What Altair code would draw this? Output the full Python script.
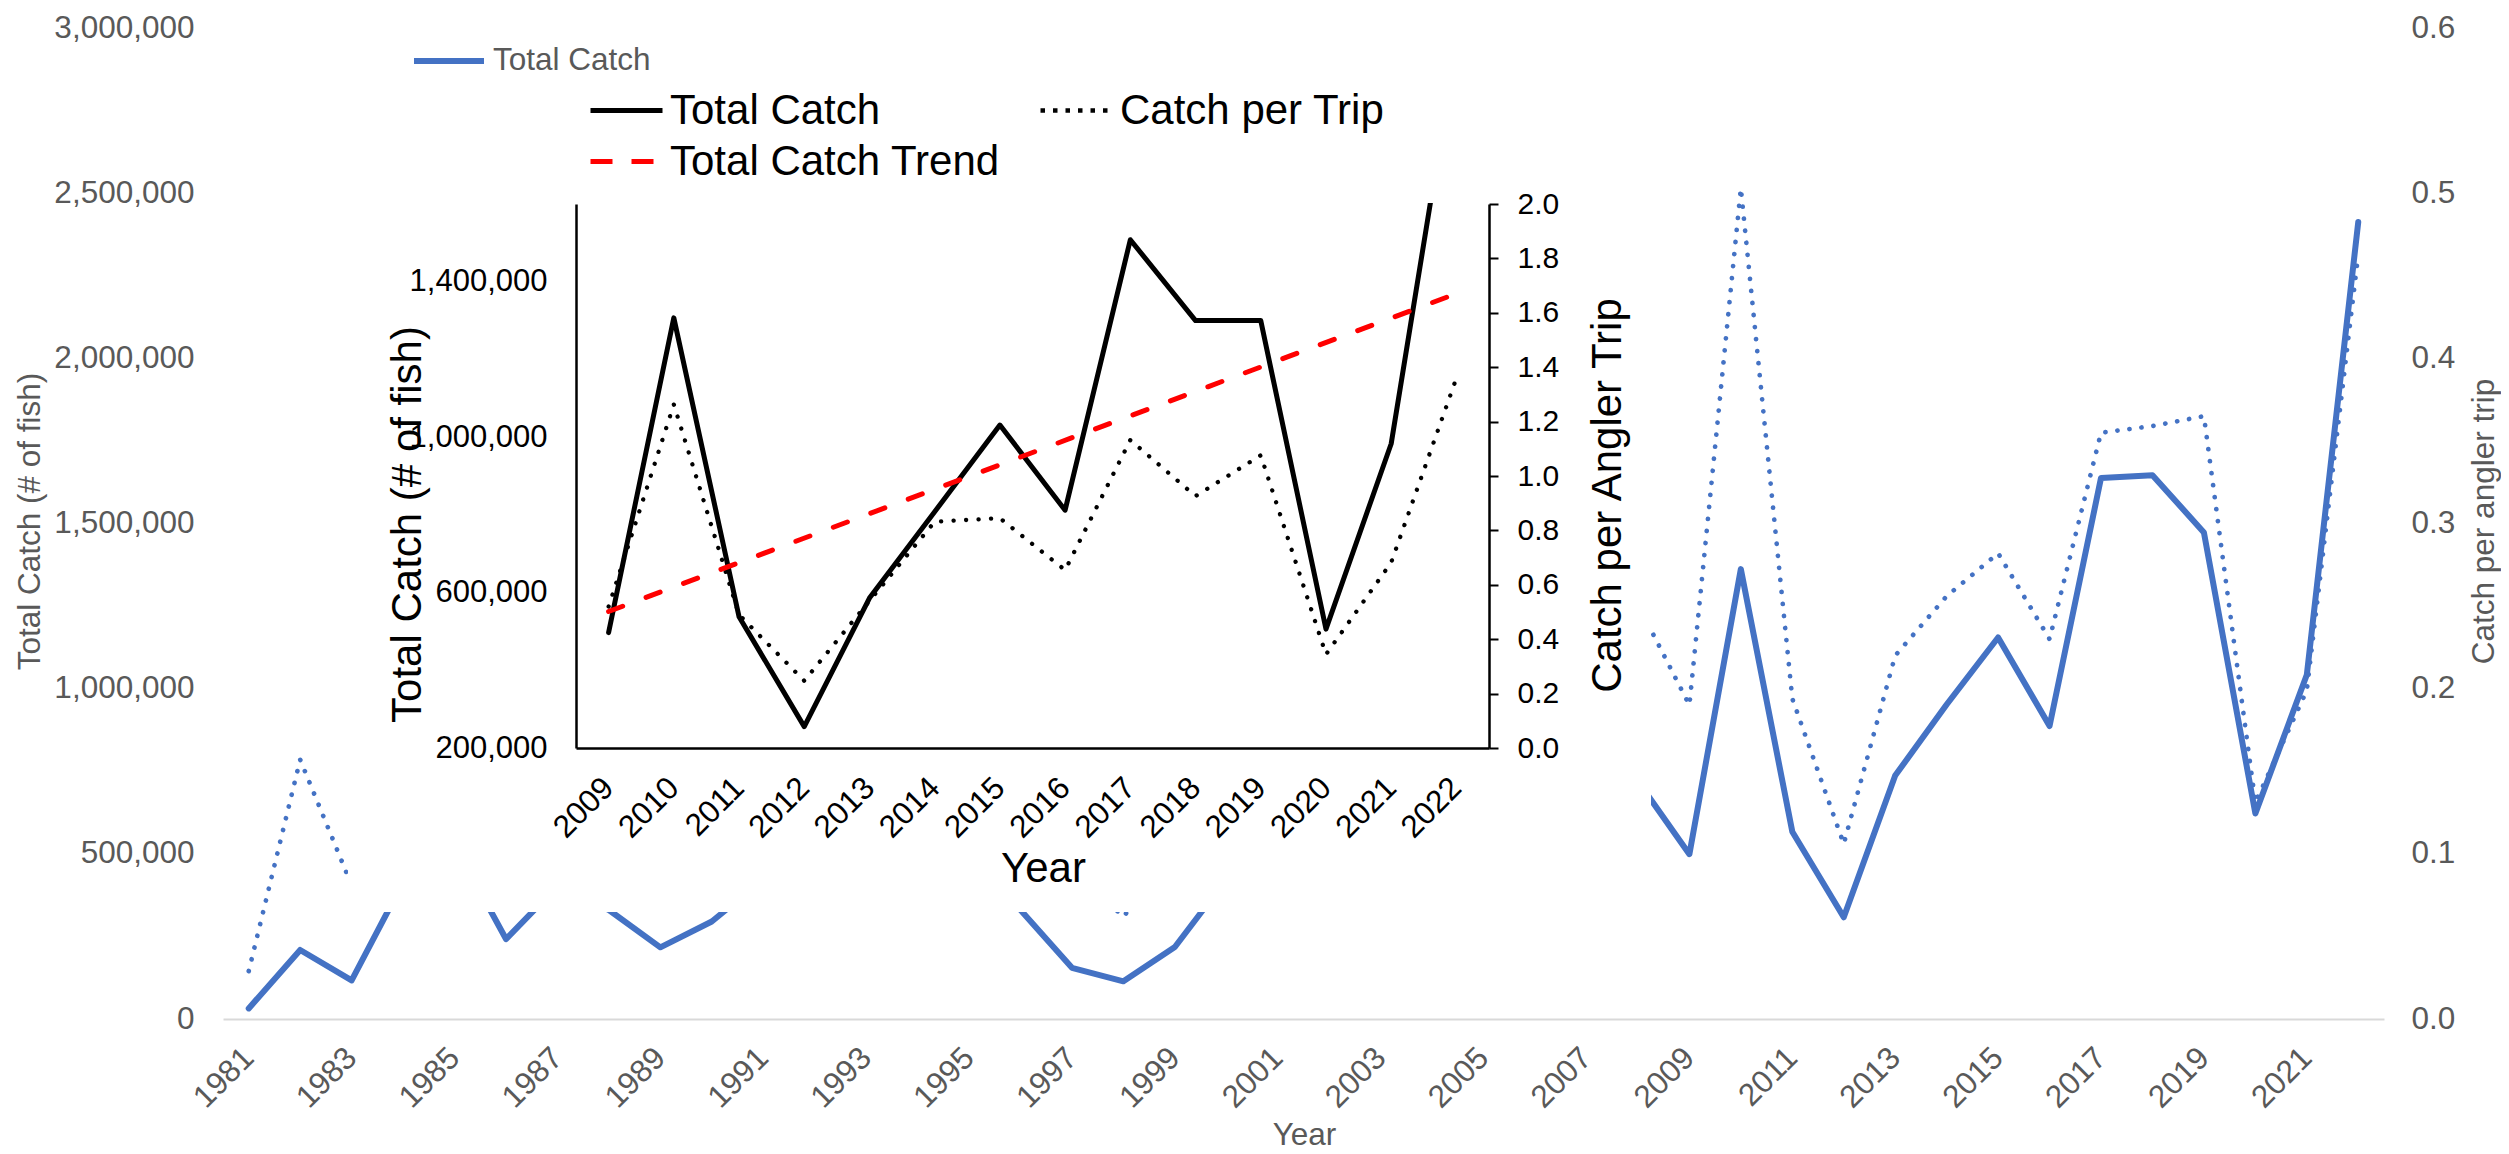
import altair as alt
import pandas as pd

FONT = "Liberation Sans"
BLUE = "#4472C4"
GRAY = "#595959"

# ---------------- data ----------------
years = [1981, 1982, 1983, 1984, 1985, 1986, 1987, 1988, 1989, 1990,
         1991, 1992, 1993, 1994, 1995, 1996, 1997, 1998, 1999, 2000,
         2001, 2002, 2003, 2004, 2005, 2006, 2007, 2008, 2009, 2010,
         2011, 2012, 2013, 2014, 2015, 2016, 2017, 2018, 2019, 2020,
         2021, 2022]
total_catch = [32000, 209000, 117000, 414000, 528000, 242000, 402000, 330000, 217000, 295000,
               423000, 520000, 480000, 560000, 600000, 330000, 155000, 114000, 218000, 423000,
               560000, 640000, 700000, 820000, 760000, 900000, 850000, 720000, 499000, 1362000,
               567000, 308000, 737000, 952000, 1155000, 887000, 1638000, 1646000, 1473000, 622000,
               1042000, 2413000]
catch_per_trip = [0.029, 0.157, 0.081, 0.12, 0.15, 0.11, 0.13, 0.12, 0.10, 0.11,
                  0.14, 0.16, 0.15, 0.17, 0.18, 0.12, 0.09, 0.062, 0.10, 0.14,
                  0.16, 0.18, 0.19, 0.22, 0.20, 0.23, 0.22, 0.251, 0.190, 0.503,
                  0.194, 0.106, 0.220, 0.256, 0.282, 0.230, 0.355, 0.359, 0.365, 0.131,
                  0.199, 0.463]
main_year_ticks = [1981, 1983, 1985, 1987, 1989, 1991, 1993, 1995, 1997, 1999,
                   2001, 2003, 2005, 2007, 2009, 2011, 2013, 2015, 2017, 2019, 2021]
main_left_ticks = [0, 500000, 1000000, 1500000, 2000000, 2500000, 3000000]
main_right_ticks = [0.0, 0.1, 0.2, 0.3, 0.4, 0.5, 0.6]

inset_years = [2009, 2010, 2011, 2012, 2013, 2014, 2015, 2016, 2017, 2018, 2019, 2020, 2021, 2022]
inset_total = [497000, 1307000, 538000, 255000, 586000, 808000, 1031000, 812000,
               1508000, 1300000, 1300000, 506000, 983000, 2014000]
inset_cpt = [0.52, 1.263, 0.49, 0.247, 0.541, 0.832, 0.845, 0.654,
             1.132, 0.926, 1.076, 0.344, 0.682, 1.36]
inset_left_ticks = [200000, 600000, 1000000, 1400000]
inset_right_ticks = [0.0, 0.2, 0.4, 0.6, 0.8, 1.0, 1.2, 1.4, 1.6, 1.8, 2.0]

main_df = pd.DataFrame({"year": years, "total": total_catch, "cpt": catch_per_trip})
inset_df = pd.DataFrame({"year": inset_years, "catch": inset_total, "cpt": inset_cpt})
one_row = pd.DataFrame({"k": [0]})

# ---------------- layout (view pixels) ----------------
W, H = 2161, 991
IX0, IX1 = 353, 1266      # inset plot left / right
IY0, IY1 = 720, 176       # inset plot bottom / top

# ---------------- main chart ----------------
main_x = alt.X(
    "year:Q",
    scale=alt.Scale(domain=[1980.5, 2022.5], nice=False, zero=False),
    axis=alt.Axis(orient="bottom", values=main_year_ticks, format="d",
                  labelAngle=-45, labelAlign="right", labelBaseline="middle",
                  labelPadding=34, labelFont=FONT, labelFontSize=31.5, labelColor=GRAY,
                  labelOverlap=False, labelFlush=False, ticks=False, grid=False,
                  domainColor="#D9D9D9", domainWidth=2,
                  title="Year", titleFont=FONT, titleFontSize=31.5, titleColor=GRAY,
                  titleFontWeight="normal", titleX=1081, titleY=116,
                  titleBaseline="middle", titleAlign="center"),
)

main_solid = alt.Chart(main_df).transform_calculate(series="'Total Catch'").mark_line(
    strokeWidth=6, strokeJoin="round", strokeCap="round"
).encode(
    x=main_x,
    y=alt.Y("total:Q",
            scale=alt.Scale(domain=[0, 3000000], nice=False, zero=False),
            axis=alt.Axis(orient="left", values=main_left_ticks, format=",.0f",
                          labelFont=FONT, labelFontSize=31.5, labelColor=GRAY,
                          labelPadding=29, ticks=False, domain=False, grid=False,
                          title="Total Catch (# of fish)", titleFont=FONT,
                          titleFontSize=31.5, titleColor=GRAY, titleFontWeight="normal",
                          titleAngle=270, titleX=-193, titleY=493,
                          titleBaseline="middle", titleAlign="center")),
    color=alt.Color("series:N",
                    scale=alt.Scale(domain=["Total Catch"], range=[BLUE]),
                    legend=alt.Legend(title=None, orient="none", legendX=188, legendY=-5,
                                      symbolType="stroke", symbolSize=4900,
                                      symbolStrokeWidth=6, labelFont=FONT,
                                      labelFontSize=31.5, labelColor=GRAY, labelLimit=0,
                                      labelOffset=6, padding=0)),
)

main_dotted = alt.Chart(main_df).mark_line(
    color=BLUE, strokeWidth=4.7, strokeDash=[0.1, 12], strokeCap="round", strokeJoin="round"
).encode(
    x=alt.X("year:Q", scale=alt.Scale(domain=[1980.5, 2022.5], nice=False, zero=False), axis=None),
    y=alt.Y("cpt:Q",
            scale=alt.Scale(domain=[0, 0.6], nice=False, zero=False),
            axis=alt.Axis(orient="right", values=main_right_ticks, format=".1f",
                          labelFont=FONT, labelFontSize=31.5, labelColor=GRAY,
                          labelPadding=27, ticks=False, domain=False, grid=False,
                          title="Catch per angler trip", titleFont=FONT,
                          titleFontSize=31.5, titleColor=GRAY, titleFontWeight="normal",
                          titleAngle=270, titleX=100, titleY=493,
                          titleBaseline="middle", titleAlign="center")),
)

# white background of the inset
inset_box = alt.Chart(one_row).mark_rect(color="white").encode(
    x=alt.value(125), x2=alt.value(1428), y=alt.value(0), y2=alt.value(884)
)

# ---------------- inset chart ----------------
inset_x_scale = alt.Scale(domain=[2008.5, 2022.5], range=[IX0, IX1], nice=False, zero=False)
inset_tc_scale = alt.Scale(domain=[200000, 1600000], range=[IY0, IY1], nice=False, zero=False)

inset_dotted = alt.Chart(inset_df).transform_calculate(series="'Catch per Trip'").mark_line(
    strokeWidth=4.3, strokeDash=[0.1, 12.4], strokeCap="round", strokeJoin="round"
).encode(
    x=alt.X("year:Q", scale=inset_x_scale, axis=None),
    y=alt.Y("cpt:Q",
            scale=alt.Scale(domain=[0, 2.0], range=[IY0, IY1], nice=False, zero=False),
            axis=alt.Axis(orient="right", offset=-(W - IX1), values=inset_right_ticks,
                          format=".1f", labelFont=FONT, labelFontSize=30,
                          labelColor="black", labelPadding=19, ticks=True, tickSize=9,
                          tickColor="black", tickWidth=2, domainColor="black",
                          domainWidth=2.5, grid=False,
                          title="Catch per Angler Trip", titleFont=FONT, titleFontSize=42,
                          titleColor="black", titleFontWeight="normal", titleAngle=270,
                          titleX=118, titleY=467, titleBaseline="middle",
                          titleAlign="center", zindex=1)),
    color=alt.Color("series:N",
                    scale=alt.Scale(domain=["Catch per Trip"], range=["black"]),
                    legend=alt.Legend(title=None, orient="none", legendX=815, legendY=44,
                                      symbolType="stroke", symbolSize=5184,
                                      symbolStrokeWidth=4.5, symbolDash=[4.5, 8],
                                      labelFont=FONT, labelFontSize=42, labelLimit=0,
                                      labelColor="black", labelOffset=5, padding=0)),
)

inset_solid = alt.Chart(inset_df).transform_calculate(series="'Total Catch'").mark_line(
    strokeWidth=5, strokeJoin="round", strokeCap="round"
).encode(
    x=alt.X("year:Q", scale=inset_x_scale,
            axis=alt.Axis(orient="bottom", offset=-(H - IY0), values=inset_years,
                          format="d", labelAngle=-45, labelAlign="right",
                          labelBaseline="middle", labelPadding=35, labelFont=FONT,
                          labelFontSize=31.5, labelColor="black", labelOverlap=False,
                          labelFlush=False, ticks=False, grid=False,
                          domainColor="black", domainWidth=2.5,
                          title="Year", titleFont=FONT, titleFontSize=42,
                          titleColor="black", titleFontWeight="normal",
                          titleX=820, titleY=120, titleBaseline="middle",
                          titleAlign="center", zindex=1)),
    y=alt.Y("catch:Q", scale=inset_tc_scale,
            axis=alt.Axis(orient="left", offset=-IX0, values=inset_left_ticks,
                          format=",.0f", labelFont=FONT, labelFontSize=31,
                          labelColor="black", labelPadding=29, ticks=False,
                          domainColor="black", domainWidth=2.5, grid=False,
                          title="Total Catch (# of fish)", titleFont=FONT,
                          titleFontSize=42, titleColor="black", titleFontWeight="normal",
                          titleAngle=270, titleX=-169, titleY=496,
                          titleBaseline="middle", titleAlign="center", zindex=1)),
    color=alt.Color("series:N",
                    scale=alt.Scale(domain=["Total Catch"], range=["black"]),
                    legend=alt.Legend(title=None, orient="none", legendX=365, legendY=44,
                                      symbolType="stroke", symbolSize=5184,
                                      symbolStrokeWidth=5, labelFont=FONT,
                                      labelFontSize=42, labelColor="black", labelLimit=0,
                                      labelOffset=5, padding=0)),
)

inset_trend = alt.Chart(inset_df).transform_regression(
    "year", "catch", extent=[2009, 2022]
).transform_calculate(series="'Total Catch Trend'").mark_line(
    strokeWidth=5, strokeDash=[15, 25], strokeCap="round"
).encode(
    x=alt.X("year:Q", scale=inset_x_scale, axis=None),
    y=alt.Y("catch:Q", scale=inset_tc_scale, axis=None),
    color=alt.Color("series:N",
                    scale=alt.Scale(domain=["Total Catch Trend"], range=["#FF0000"]),
                    legend=alt.Legend(title=None, orient="none", legendX=365, legendY=95,
                                      symbolType="stroke", symbolSize=5184,
                                      symbolStrokeWidth=5, symbolDash=[22, 19],
                                      labelFont=FONT, labelFontSize=42, labelLimit=0,
                                      labelColor="black", labelOffset=5, padding=0)),
)

# hides the part of the inset lines above the inset plot area
inset_mask = alt.Chart(one_row).mark_rect(color="white").encode(
    x=alt.value(IX0), x2=alt.value(IX1), y=alt.value(-20), y2=alt.value(IY1 - 1)
)

chart = alt.layer(
    main_solid, main_dotted, inset_box, inset_dotted, inset_solid, inset_trend, inset_mask
).resolve_scale(
    x="independent", y="independent", color="independent"
).properties(
    width=W, height=H,
    autosize=alt.AutoSizeParams(type="none"),
    padding={"left": 215, "top": 20, "right": 117, "bottom": 135},
    background="white",
).configure_view(stroke=None)

chart.save("out.html", embed_options={"renderer": "svg", "actions": False})
